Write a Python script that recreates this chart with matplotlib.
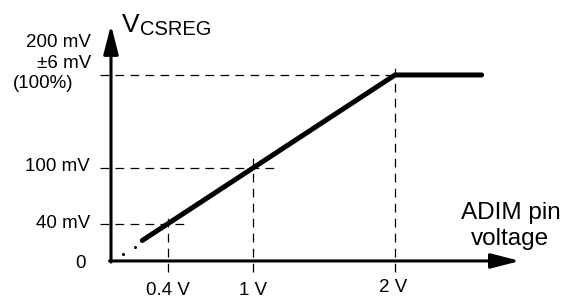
import matplotlib
matplotlib.use("Agg")
import matplotlib.pyplot as plt

plt.rcParams['font.family'] = ['Liberation Sans', 'DejaVu Sans']

# Courbe V_CSREG en fonction de la tension ADIM (V, mV)
curve_x = [0.22, 2.0, 2.61]
curve_y = [22, 200, 200]
# Pointillés vers l'origine
dots_x = [0.085, 0.17]
dots_y = [7, 15]
# Repères
x_marks = [0.4, 1.0, 2.0]
x_labels = ["0.4 V", "1 V", "2 V"]
y_marks = [40, 100, 200]

fig = plt.figure(figsize=(5.71, 2.99), dpi=100)
ax = fig.add_axes([0, 0, 1, 1])
ax.set_xlim(-0.7817, 3.2394)
ax.set_ylim(-40.9, 280.6)
ax.axis('off')

# Axes avec flèches
arrow = dict(arrowstyle='-|>,head_length=1.75,head_width=0.45', mutation_scale=10,
             lw=2.2, color='black', shrinkA=0, shrinkB=0)
ax.annotate('', xy=(0, 253.8), xytext=(0, -1.2), arrowprops=arrow)
ax.annotate('', xy=(2.88, 0), xytext=(-0.01, 0), arrowprops=arrow)

# Lignes de repère en tirets
dash = dict(color='black', lw=0.9, dashes=[7, 5])
h_ends = [0.54, 1.19, 2.0]
for yv, xe in zip(y_marks, h_ends):
    ax.plot([-0.077, xe], [yv, yv], **dash)
v_tops = [52.7, 114, 207.5]
for xv, yt in zip(x_marks, v_tops):
    ax.plot([xv, xv], [-11.8, yt], **dash)

# Courbe principale
ax.plot(curve_x, curve_y, color='black', lw=3.6, solid_capstyle='round', solid_joinstyle='miter')
ax.plot(dots_x, dots_y, 'o', color='black', ms=2.2, mew=0)

# Textes
fs = 13.5
ax.text(-0.141, 230.1, "200 mV", ha='right', va='baseline', fontsize=fs)
ax.text(-0.141, 207.5, "±6 mV", ha='right', va='baseline', fontsize=fs)
ax.text(-0.268, 186, "(100%)", ha='right', va='baseline', fontsize=fs)
ax.text(-0.148, 96.8, "100 mV", ha='right', va='baseline', fontsize=fs)
ax.text(-0.148, 35.5, "40 mV", ha='right', va='baseline', fontsize=fs)
ax.text(-0.218, -7.5, "0", ha='center', va='baseline', fontsize=fs)
for xv, lab in zip(x_marks, x_labels):
    yb = -33.3 if xv == 2.0 else -36.6
    ax.text(xv - 0.01 if xv == 2.0 else xv, yb, lab, ha='center', va='baseline', fontsize=fs)

ax.text(0.077, 246, "V", ha='left', va='baseline', fontsize=19)
ax.text(0.204, 243, "CSREG", ha='left', va='baseline', fontsize=14.5)
ax.text(2.813, 45.2, "ADIM pin", ha='center', va='baseline', fontsize=17.5)
ax.text(2.813, 17.2, "voltage", ha='center', va='baseline', fontsize=17.5)

fig.savefig("out.png", dpi=100)
